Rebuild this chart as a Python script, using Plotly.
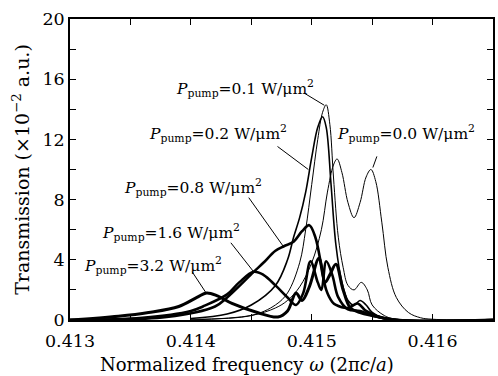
import plotly.graph_objects as go

# ---------------- data ----------------
f00 = [0.4140, 0.4145, 0.4147, 0.4148, 0.4149, 0.4150, 0.41508, 0.41513, 0.41518, 0.41521,
       0.41525, 0.41530, 0.41535, 0.41540, 0.41545, 0.41549, 0.41553, 0.41558, 0.41563,
       0.41570, 0.41580, 0.41590, 0.41600, 0.41650]
t00 = [0.0, 0.3, 0.8, 1.3, 2.2, 3.8, 6.0, 8.5, 10.3, 10.7,
       9.8, 7.8, 6.8, 7.8, 9.5, 10.0, 9.2, 6.5, 3.5,
       1.5, 0.5, 0.15, 0.05, 0.0]

f01 = [0.4140, 0.4145, 0.4147, 0.4148, 0.4149, 0.41495, 0.41500, 0.41505, 0.41509, 0.41512,
       0.41515, 0.41518, 0.41522, 0.41526, 0.41530, 0.41535, 0.41541, 0.41546, 0.41550,
       0.41560, 0.41570, 0.41650]
t01 = [0.05, 0.3, 1.0, 1.8, 3.8, 6.0, 9.0, 12.0, 13.8, 14.3,
       13.0, 9.5, 5.5, 3.5, 2.3, 2.0, 2.5, 2.0, 1.0,
       0.3, 0.05, 0.0]

f02 = [0.4140, 0.4143, 0.4145, 0.4147, 0.4148, 0.41485, 0.41490, 0.41495, 0.41500, 0.41505,
       0.41509, 0.41512, 0.41516, 0.41520, 0.41525, 0.41530, 0.41535, 0.41540, 0.41545,
       0.41550, 0.41560, 0.41650]
t02 = [0.1, 0.4, 1.0, 2.3, 4.0, 5.5, 6.8, 8.5, 10.8, 12.8,
       13.5, 12.8, 9.0, 5.0, 2.5, 1.3, 1.0, 1.3, 1.0,
       0.5, 0.1, 0.0]

f08 = [0.4130, 0.4138, 0.4142, 0.4143, 0.41452, 0.4146, 0.4147, 0.41477, 0.41485, 0.41492,
       0.41498, 0.41503, 0.41508, 0.41512, 0.41517, 0.41520, 0.41530, 0.41538, 0.41545,
       0.41560, 0.41650]
t08 = [0.0, 0.2, 0.9, 1.5, 3.2, 3.8, 4.6, 4.9, 5.2, 5.9,
       6.3, 5.5, 3.6, 2.0, 1.2, 1.0, 0.8, 1.1, 0.6,
       0.1, 0.0]

f16 = [0.4130, 0.4136, 0.4140, 0.4141, 0.4143, 0.4144, 0.41452, 0.4146, 0.4147, 0.4148,
       0.41487, 0.41493, 0.41499, 0.41505, 0.41508, 0.41512, 0.41517, 0.41522, 0.41530,
       0.41540, 0.41550, 0.41570, 0.41650]
t16 = [0.0, 0.15, 0.6, 0.9, 1.7, 2.5, 3.2, 3.0, 2.3, 1.5,
       1.0, 1.8, 3.9, 2.5, 2.0, 3.9, 3.0, 1.5, 0.7,
       0.6, 0.3, 0.0, 0.0]

f32 = [0.4130, 0.4134, 0.41365, 0.4139, 0.41405, 0.41413, 0.41422, 0.41434, 0.41455, 0.41472,
       0.41480, 0.41487, 0.41492, 0.41498, 0.41506, 0.41511, 0.41515, 0.41520, 0.41526,
       0.41532, 0.41540, 0.41550, 0.41570, 0.41650]
t32 = [0.0, 0.25, 0.5, 0.9, 1.5, 1.8, 1.6, 1.1, 0.5, 0.2,
       0.6, 1.8, 1.3, 2.2, 4.1, 2.5, 3.0, 3.7, 2.0,
       0.8, 0.5, 0.3, 0.0, 0.0]

series = [
    ("0.0", f00, t00, 1.0),
    ("0.1", f01, t01, 1.0),
    ("0.2", f02, t02, 1.6),
    ("0.8", f08, t08, 2.6),
    ("1.6", f16, t16, 2.6),
    ("3.2", f32, t32, 3.0),
]

# label anchor (left of text) and pointer line ends, data units
label_pos = {
    "0.1": (0.413863, 15.4, 0.414939, 15.07, 0.415104, 14.27),
    "0.2": (0.413633, 12.4, 0.414717, 11.53, 0.414972, 10.0),
    "0.8": (0.413427, 8.8, 0.414479, 8.13, 0.414767, 4.87),
    "1.6": (0.413247, 5.8, 0.414331, 5.13, 0.41452, 3.2),
    "3.2": (0.413099, 3.65, 0.414011, 3.2, 0.414126, 1.8),
    "0.0": (0.415194, 12.4, 0.415539, 10.87, 0.415506, 10.13),
}

x_ticks = [0.413, 0.414, 0.415, 0.416]
y_ticks = [0, 4, 8, 12, 16, 20]

FONT = "DejaVu Serif"

fig = go.Figure()
for name, fx, ty, w in series:
    fig.add_trace(go.Scatter(
        x=fx, y=ty, mode="lines", name=name,
        line=dict(color="black", width=w, shape="spline", smoothing=1.0),
        showlegend=False, hoverinfo="skip"))

annotations = []
shapes = []
for name, (tx, ty_, x0, y0, x1, y1) in label_pos.items():
    annotations.append(dict(
        x=tx, y=ty_, xref="x", yref="y", xanchor="left", yanchor="middle",
        text="<i>P</i><sub>pump</sub>=" + name + " W/μm<sup>2</sup>",
        showarrow=False, font=dict(family=FONT, size=15.5, color="black")))
    shapes.append(dict(type="line", xref="x", yref="y", x0=x0, y0=y0, x1=x1, y1=y1,
                       line=dict(color="black", width=1)))

annotations.append(dict(
    x=0.419, y=-0.149, xref="paper", yref="paper", xanchor="center", yanchor="middle",
    text="Normalized frequency <i>ω</i> (2π<i>c</i>/<i>a</i>)", showarrow=False,
    font=dict(family=FONT, size=18, color="black")))

fig.update_layout(
    width=498, height=376,
    margin=dict(l=70, r=3, t=19, b=56),
    paper_bgcolor="white", plot_bgcolor="white",
    font=dict(family=FONT, size=18, color="black"),
    annotations=annotations, shapes=shapes,
)
fig.update_xaxes(
    range=[0.413, 0.4165], tickvals=x_ticks, ticktext=[f"{v:.3f}" for v in x_ticks],
    ticks="inside", ticklen=6, tickwidth=1, tickcolor="black",
    minor=dict(ticks="inside", dtick=0.0005, tick0=0.413, ticklen=6, tickcolor="black", tickwidth=1),
    showline=True, linecolor="black", linewidth=1.5, mirror="ticks",
    showgrid=False, zeroline=False, ticklabelstandoff=4,
    tickfont=dict(family=FONT, size=17.5, color="black"))
fig.update_yaxes(
    range=[0, 20], tickvals=y_ticks, ticktext=[str(v) for v in y_ticks],
    ticks="inside", ticklen=6, tickwidth=1, tickcolor="black",
    minor=dict(ticks="inside", dtick=2, tick0=0, ticklen=6, tickcolor="black", tickwidth=1),
    showline=True, linecolor="black", linewidth=1.5, mirror="ticks",
    showgrid=False, zeroline=False,
    title=dict(text="Transmission (×10<sup>−2</sup> a.u.)", standoff=8,
               font=dict(family=FONT, size=19, color="black")),
    tickfont=dict(family=FONT, size=17.5, color="black"))

fig.write_html("out.html")
